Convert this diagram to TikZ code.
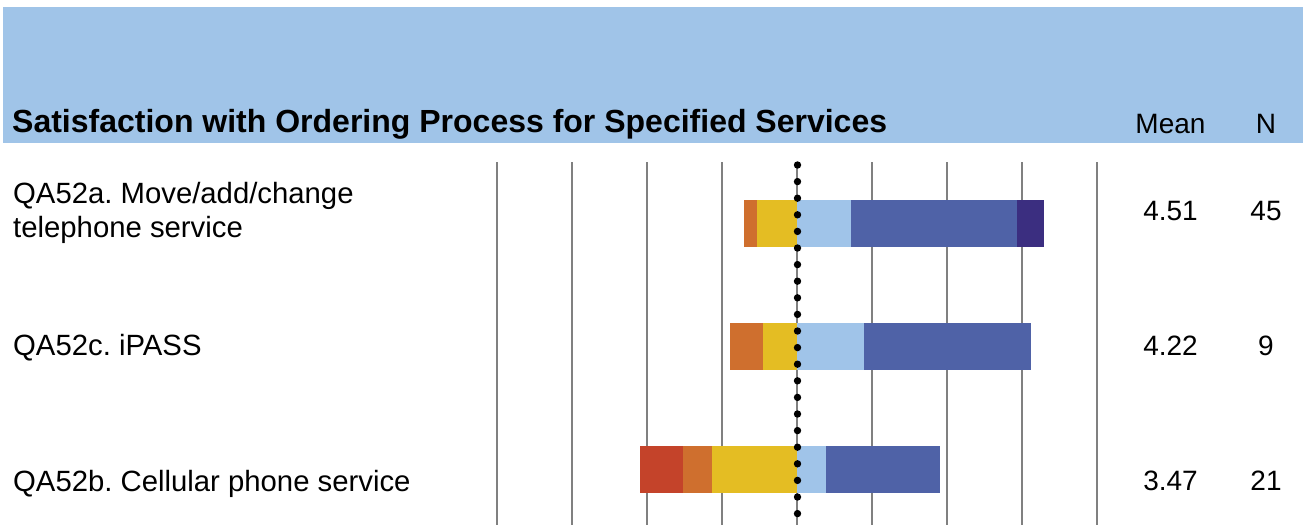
\documentclass[tikz,border=0pt]{standalone}
\usepackage{fontspec}
\setmainfont{Liberation Sans}
\frenchspacing
\definecolor{hdr}{HTML}{A0C4E8}
\definecolor{cRed}{HTML}{C4432A}
\definecolor{cOrange}{HTML}{CF6F2E}
\definecolor{cYellow}{HTML}{E4BD23}
\definecolor{cLight}{HTML}{A0C4E9}
\definecolor{cBlue}{HTML}{4F62A7}
\definecolor{cPurple}{HTML}{3B2E80}
\definecolor{gridgray}{HTML}{808080}
\begin{document}
\begin{tikzpicture}[x=1pt,y=-1pt,
  lbl/.style={anchor=base west, inner sep=0pt, font=\fontsize{29.3}{34}\selectfont\frenchspacing, align=left},
  val/.style={anchor=base east, inner sep=0pt, font=\fontsize{28}{34}\selectfont},
  nval/.style={anchor=base, inner sep=0pt, font=\fontsize{28}{34}\selectfont},
  gridline/.style={draw=gridgray, line width=2.7pt},
  dotline/.style={line width=7.4pt, line cap=round, dash pattern=on 0pt off 16.6pt}
]
\useasboundingbox (0,0) rectangle (1303,525);
\fill[white] (0,0) rectangle (1303,525);
\fill[hdr] (3,7) rectangle (1303,143);
\node[anchor=base west, inner sep=0pt, font=\fontsize{32}{36}\selectfont\bfseries] (title) at (12,132) {Satisfaction with Ordering Process for Specified Services};
\node[nval] (meanhdr) at (1170.5,133) {Mean};
\node[nval] (nhdr) at (1266,133) {N};
% grid
\foreach \x in {497,572,...,1097} \draw[gridline] (\x,162) -- (\x,525);
% row a
\fill[cOrange] (744,200) rectangle (757,247);
\fill[cYellow] (757,200) rectangle (797,247);
\fill[cLight] (797,200) rectangle (851,247);
\fill[cBlue] (851,200) rectangle (1017,247);
\fill[cPurple] (1017,200) rectangle (1044,247);
% row c
\fill[cOrange] (730,323) rectangle (763,370);
\fill[cYellow] (763,323) rectangle (797,370);
\fill[cLight] (797,323) rectangle (864,370);
\fill[cBlue] (864,323) rectangle (1031,370);
% row b
\fill[cRed] (640,446) rectangle (683,493);
\fill[cOrange] (683,446) rectangle (712,493);
\fill[cYellow] (712,446) rectangle (797,493);
\fill[cLight] (797,446) rectangle (826,493);
\fill[cBlue] (826,446) rectangle (940,493);
% dotted midline
\draw[dotline] (797.5,165) -- (797.5,525);
% labels
\node[lbl] (la) at (13,237) {QA52a. Move/add/change\\telephone service};
\node[lbl] (lc) at (13,355) {QA52c. iPASS};
\node[lbl] (lb) at (13,491) {QA52b. Cellular phone service};
% values
\node[val] (ma) at (1198,220) {4.51};
\node[nval] (na) at (1266,220) {45};
\node[val] (mc) at (1198,355) {4.22};
\node[nval] (nc) at (1266,355) {9};
\node[val] (mb) at (1198,490) {3.47};
\node[nval] (nb) at (1266,490) {21};
\end{tikzpicture}
\end{document}
